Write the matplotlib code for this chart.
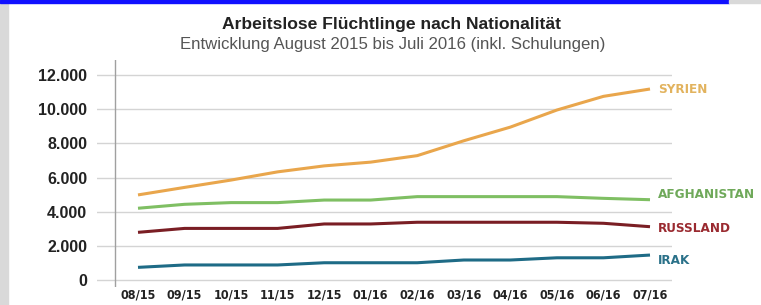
import matplotlib
matplotlib.use("Agg")
import matplotlib.pyplot as plt
from matplotlib.patches import Rectangle

months = ["08/15", "09/15", "10/15", "11/15", "12/15", "01/16",
          "02/16", "03/16", "04/16", "05/16", "06/16", "07/16"]
syrien = [4980, 5420, 5850, 6330, 6680, 6900, 7280, 8150, 8950, 9950, 10750, 11180]
afghanistan = [4200, 4430, 4530, 4530, 4680, 4680, 4880, 4880, 4880, 4880, 4780, 4700]
russland = [2790, 3020, 3020, 3020, 3280, 3280, 3380, 3380, 3380, 3380, 3320, 3120]
irak = [740, 880, 880, 880, 1010, 1010, 1010, 1170, 1170, 1300, 1300, 1460]
series_names = ["SYRIEN", "AFGHANISTAN", "RUSSLAND", "IRAK"]
yticks = [0, 2000, 4000, 6000, 8000, 10000, 12000]
ytick_labels = ["0", "2.000", "4.000", "6.000", "8.000", "10.000", "12.000"]

line_colors = ["#E9A64C", "#7FBF63", "#7A1E24", "#1E6B86"]
label_colors = ["#E2B35E", "#6FA95A", "#9A2A30", "#2A7189"]
label_dy = [0, 4, -1, -4]

W, H = 761, 305
fig = plt.figure(figsize=(W / 100, H / 100), dpi=100)
fig.patch.set_facecolor("white")

fig.add_artist(Rectangle((0, 0), 8 / W, 1, transform=fig.transFigure, color="#d9d9d9", zorder=0))
fig.add_artist(Rectangle((0, 1 - 3 / H), 729 / W, 3 / H, transform=fig.transFigure, color="#1010ff", zorder=5))
fig.add_artist(Rectangle((729 / W, 1 - 3 / H), 1 - 729 / W, 3 / H, transform=fig.transFigure, color="#d9d9d9", zorder=5))

left, right = 97 / W, 672 / W
bottom, top = (H - 287) / H, (H - 60) / H
ax = fig.add_axes([left, bottom, right - left, top - bottom])
ax.set_facecolor("none")

ppx = (650 - 138) / 11.0
ax.set_xlim(-(138 - 97) / ppx, 11 + (672 - 650) / ppx)
vpp = 12000 / (280 - 75)
ax.set_ylim(-(287 - 280) * vpp, 12000 + (75 - 60) * vpp)

for s in ax.spines.values():
    s.set_visible(False)

for y in yticks:
    ax.axhline(y, color="#d4d4d4", lw=1.0, zorder=1)
ax.axvline(-(138 - 115) / ppx, ymin=0, ymax=1, color="#a0a0a0", lw=1.0, zorder=2)

cond = dict(family="DejaVu Sans", fontstretch="condensed", fontweight="bold")

x = list(range(len(months)))
data = [syrien, afghanistan, russland, irak]
for vals, lc, tc, name, dy in zip(data, line_colors, label_colors, series_names, label_dy):
    ax.plot(x, vals, color=lc, lw=2.2, zorder=3, solid_capstyle="butt")
    ax.annotate(name, (x[-1], vals[-1]), xytext=(6, dy), textcoords="offset points",
                ha="left", va="center", color=tc, fontsize=9.6, annotation_clip=False, **cond)

ax.set_yticks(yticks)
ax.set_yticklabels(ytick_labels, fontsize=11.5, fontweight="bold", color="#222222",
                   family=["Liberation Sans", "DejaVu Sans"])
ax.set_xticks(x)
ax.set_xticklabels(months, fontsize=9, color="#222222", **cond)
ax.tick_params(axis="both", length=0)
ax.tick_params(axis="y", pad=7)
ax.tick_params(axis="x", pad=1)

fig.text(391 / W, 1 - 25 / H, "Arbeitslose Flüchtlinge nach Nationalität", ha="center", va="center",
         fontsize=12.6, fontweight="bold", color="#222222", family=["Liberation Sans", "DejaVu Sans"])
fig.text(393 / W, 1 - 45 / H, "Entwicklung August 2015 bis Juli 2016 (inkl. Schulungen)", ha="center",
         va="center", fontsize=12.1, color="#555555", family=["Liberation Sans", "DejaVu Sans"])

fig.savefig("out.png", dpi=100, facecolor="white")
